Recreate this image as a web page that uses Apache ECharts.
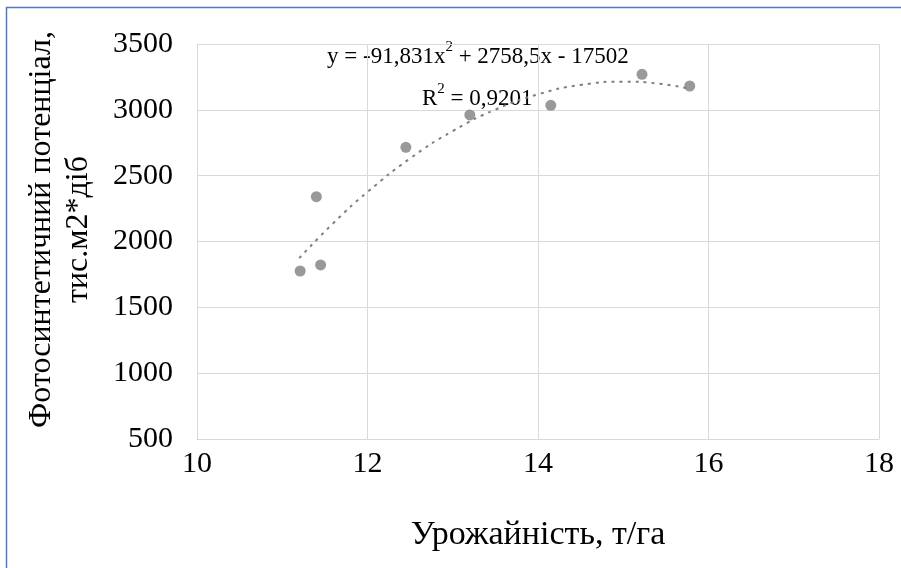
<!DOCTYPE html>
<html>
<head>
<meta charset="utf-8">
<script src="https://cdn.jsdelivr.net/npm/echarts@6/dist/echarts.min.js"></script>
<style>
html,body{margin:0;padding:0;background:#fff;}
#c{width:901px;height:568px;}
</style>
</head>
<body>
<div id="c"></div>
<script>
// Observed points (yield, photosynthetic potential)
var yieldX = [11.21, 11.45, 11.40, 12.45, 13.20, 14.15, 15.22, 15.78];
var potentialY = [1776, 1822, 2340, 2715, 2961, 3034, 3270, 3181];
// Trendline points
var trendX = [11.2, 11.6, 12.0, 12.5, 13.0, 13.5, 14.0, 14.5, 15.0, 15.4, 15.78];
var trendY = [1874, 2140, 2376, 2631, 2839, 3002, 3118, 3189, 3214, 3200, 3160];
var xTicks = [10, 12, 14, 16, 18];
var yTicks = [500, 1000, 1500, 2000, 2500, 3000, 3500];
var xTitle = 'Урожайність, т/га';
var yTitle = 'Фотосинтетичний потенціал,\nтис.м2*діб';
var eqLine1 = ['y = -91,831x', '2', ' + 2758,5x - 17502'];
var eqLine2 = ['R', '2', ' = 0,9201'];

var font = '"Liberation Serif", "Times New Roman", serif';
var pts = yieldX.map(function (x, i) { return [x, potentialY[i]]; });
var trend = trendX.map(function (x, i) { return [x, trendY[i]]; });

var chart = echarts.init(document.getElementById('c'), null, {renderer: 'canvas'});
var richStyle = {
  a: {fontFamily: font, fontSize: 23, fill: '#000', verticalAlign: 'bottom', lineHeight: 28},
  s: {fontFamily: font, fontSize: 15, fill: '#000', verticalAlign: 'top', lineHeight: 28, padding: [0, 0, 11, 0]}
};
chart.setOption({
  backgroundColor: '#fff',
  animation: false,
  grid: {left: 197, right: 22, top: 44, bottom: 129, containLabel: false, outerBoundsMode: 'none'},
  xAxis: {
    type: 'value', min: xTicks[0], max: xTicks[xTicks.length - 1], interval: 2,
    name: xTitle, nameLocation: 'middle', nameGap: 79,
    nameTextStyle: {fontFamily: font, fontSize: 34, color: '#000'},
    axisLine: {show: true, lineStyle: {color: '#d9d9d9'}},
    axisTick: {show: false},
    axisLabel: {fontFamily: font, fontSize: 30, color: '#000', margin: 10,
      formatter: function (v) { return String(v); }},
    splitLine: {show: true, lineStyle: {color: '#d9d9d9', width: 1}}
  },
  yAxis: {
    type: 'value', min: yTicks[0], max: yTicks[yTicks.length - 1], interval: 500,
    name: yTitle, nameLocation: 'middle', nameGap: 100, nameRotate: 90,
    nameTextStyle: {fontFamily: font, fontSize: 32, color: '#000', lineHeight: 37,
      padding: [0, 0, 0, 24]},
    axisLine: {show: true, lineStyle: {color: '#d9d9d9'}},
    axisTick: {show: false},
    axisLabel: {fontFamily: font, fontSize: 30, color: '#000', margin: 24,
      formatter: function (v) { return String(v); }},
    splitLine: {show: true, lineStyle: {color: '#d9d9d9', width: 1}}
  },
  series: [
    {
      type: 'line', data: trend, smooth: true, showSymbol: false, symbol: 'none',
      lineStyle: {color: '#7f7f7f', width: 2, type: [3, 5]}, z: 2
    },
    {
      type: 'scatter', data: pts, symbol: 'circle', symbolSize: 11,
      itemStyle: {color: '#808080'}, z: 3
    }
  ],
  graphic: [
    {
      type: 'polyline', shape: {points: [[6.5, 700], [6.5, 7.5], [1000, 7.5]]},
      style: {stroke: '#4f7bbd', lineWidth: 1.5, fill: null}, silent: true
    },
    {
      type: 'text', left: 327, top: 40,
      style: {
        text: '{a|' + eqLine1[0] + '}{s|' + eqLine1[1] + '}{a|' + eqLine1[2] + '}',
        rich: richStyle
      }
    },
    {
      type: 'text', left: 422, top: 82,
      style: {
        text: '{a|' + eqLine2[0] + '}{s|' + eqLine2[1] + '}{a|' + eqLine2[2] + '}',
        rich: richStyle
      }
    }
  ]
});
</script>
</body>
</html>
